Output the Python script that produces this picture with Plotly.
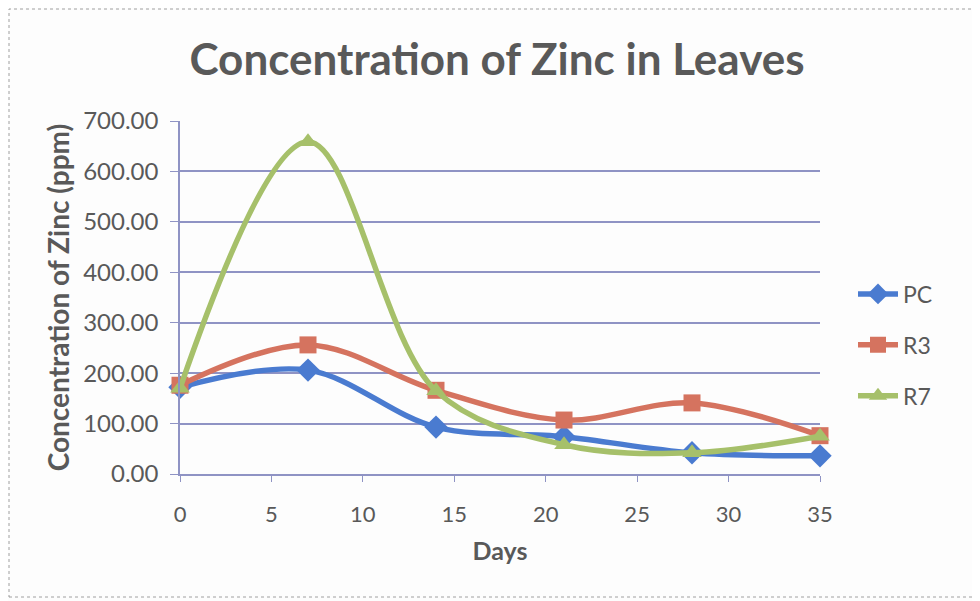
import plotly.graph_objects as go

days = [0, 7, 14, 21, 28, 35]
pc = [172, 206, 93, 74, 42, 36]
r3 = [176, 256, 166, 107, 141, 76]
r7 = [170, 659, 165, 58, 42, 75]
series = [
    ("PC", pc, "#4a7bd0", "diamond", 18),
    ("R3", r3, "#d5735f", "square", 17),
    ("R7", r7, "#a6c06a", "triangle-up", 17),
]
y_ticks = [0, 100, 200, 300, 400, 500, 600, 700]
x_ticks = [0, 5, 10, 15, 20, 25, 30, 35]

FONT = "Lato, Open Sans, sans-serif"
TXT = "#595959"
GRID = "#8f93c4"

fig = go.Figure()
for i, (name, vals, col, sym, ms) in enumerate(series):
    fig.add_trace(go.Scatter(
        x=days, y=vals, name=name, mode="lines+markers",
        line=dict(color=col, width=5.5, shape="spline", smoothing=1.0),
        marker=dict(symbol=sym, size=ms, color=col),
        cliponaxis=False, legendgroup=name,
    ))

# page body has an 8px margin; compensate
OFF = 8
W, H = 980 - OFF, 601 - OFF
L, T = 180 - OFF, 121 - OFF
pw, ph = 640, 353
R = W - L - pw
B = H - T - ph

def px_x(x):  # screen px -> paper x
    return (x - OFF - L) / pw

def px_y(y):  # screen px -> paper y
    return (T + ph - (y - OFF)) / ph

fig.update_layout(
    width=W, height=H,
    margin=dict(l=L, r=R, t=T, b=B),
    paper_bgcolor="#fdfdfd", plot_bgcolor="#fdfdfd",
    title=dict(text="<b>Concentration of Zinc in Leaves</b>", x=px_x(497), xref="paper",
               xanchor="center", y=1 - (60 - OFF) / H, yanchor="middle",
               font=dict(family=FONT, size=44, color=TXT)),
    legend=dict(x=px_x(853), y=px_y(345), xanchor="left", yanchor="middle",
                font=dict(family=FONT, size=23, color=TXT), tracegroupgap=18,
                traceorder="grouped", bgcolor="rgba(0,0,0,0)", itemwidth=40),
    font=dict(family=FONT, color=TXT),
    showlegend=True,
)
fig.update_xaxes(
    range=[0, 35], tickvals=x_ticks, ticktext=[str(v) for v in x_ticks],
    showgrid=False, zeroline=False, showline=True, linecolor=GRID, linewidth=1.5,
    ticks="outside", ticklen=6, tickcolor=GRID, ticklabelstandoff=14,
    tickfont=dict(family=FONT, size=22, color=TXT),
    title=dict(text="<b>Days</b>", font=dict(family=FONT, size=25, color=TXT), standoff=16),
)
fig.update_yaxes(
    range=[0, 700], tickvals=y_ticks, ticktext=[f"{v:.2f}" for v in y_ticks],
    showgrid=True, gridcolor=GRID, gridwidth=1.5, zeroline=False,
    showline=True, linecolor=GRID, linewidth=1.5,
    ticks="outside", ticklen=8, tickcolor=GRID, ticklabelstandoff=7,
    tickfont=dict(family=FONT, size=24, color=TXT),
    title=dict(text="<b>Concentration of Zinc (ppm)</b>", font=dict(family=FONT, size=28, color=TXT), standoff=5),
)
fig.add_shape(type="rect", xref="paper", yref="paper",
              x0=px_x(OFF + 1), x1=px_x(976), y0=px_y(597), y1=px_y(OFF + 1),
              line=dict(color="#a0a0a0", width=1, dash="dot"), layer="below")

fig.write_html("out.html")
